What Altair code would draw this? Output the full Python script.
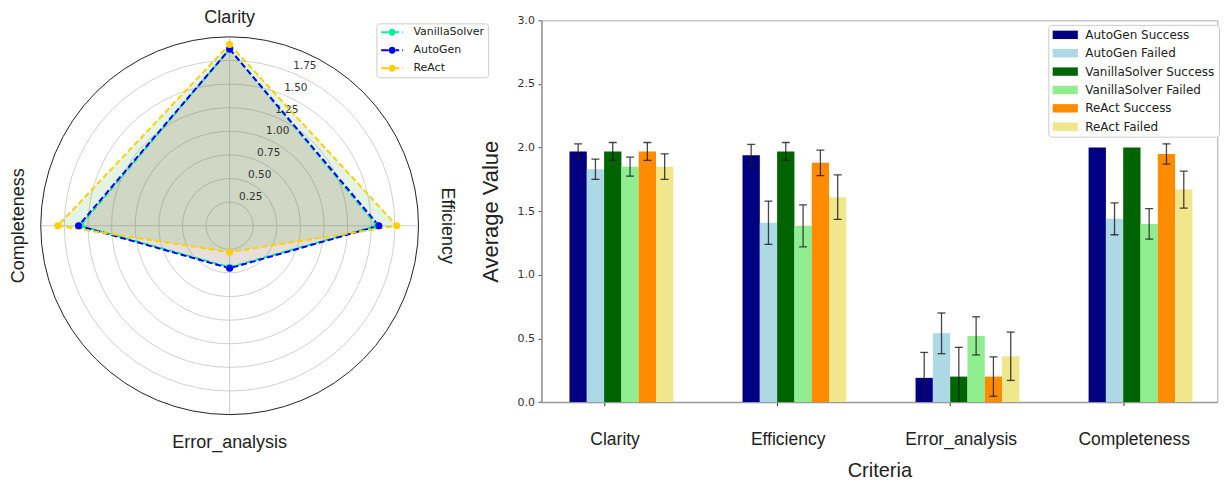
import math
import altair as alt
import pandas as pd

# ---------------- data ----------------
criteria = ["Clarity", "Efficiency", "Error_analysis", "Completeness"]

# radar chart (overall averages per model)
radar_models = ["VanillaSolver", "AutoGen", "ReAct"]
radar_vanilla = [1.87, 1.56, 0.44, 1.58]
radar_autogen = [1.87, 1.58, 0.45, 1.60]
radar_react = [1.92, 1.77, 0.28, 1.82]
radar_line_colors = ["#00ee99", "#0000ff", "#ffd000"]
radar_fill_colors = ["#1f77b4", "#ff7f0e", "#2ca02c"]
radial_ticks = [0.25, 0.5, 0.75, 1.0, 1.25, 1.5, 1.75]
radial_max = [2.0]

# grouped bar chart
series = ["AutoGen Success", "AutoGen Failed", "VanillaSolver Success",
          "VanillaSolver Failed", "ReAct Success", "ReAct Failed"]
series_colors = ["#000080", "#add8e6", "#006400", "#90ee90", "#ff8c00", "#f0e68c"]
autogen_success = [1.97, 1.94, 0.19, 2.00]
autogen_success_err = [0.06, 0.085, 0.20, 0.0]
autogen_failed = [1.83, 1.41, 0.54, 1.44]
autogen_failed_err = [0.08, 0.17, 0.16, 0.125]
vanilla_success = [1.97, 1.97, 0.20, 2.00]
vanilla_success_err = [0.07, 0.07, 0.23, 0.0]
vanilla_failed = [1.85, 1.385, 0.52, 1.40]
vanilla_failed_err = [0.075, 0.165, 0.15, 0.12]
react_success = [1.97, 1.88, 0.20, 1.95]
react_success_err = [0.07, 0.10, 0.155, 0.08]
react_failed = [1.85, 1.61, 0.36, 1.67]
react_failed_err = [0.10, 0.175, 0.19, 0.145]

# ---------------- tables ----------------
rows = []
for m, vals in zip(radar_models, [radar_vanilla, radar_autogen, radar_react]):
    closed_c = criteria + [criteria[0]]
    closed_v = vals + [vals[0]]
    for i, (c, v) in enumerate(zip(closed_c, closed_v)):
        rows.append({"model": m, "criterion": c, "idx": i, "value": v})
radar_df = pd.DataFrame(rows)
crit_df = pd.DataFrame({"criterion": criteria, "idx": list(range(len(criteria)))})
ticks_df = pd.DataFrame({"r": radial_ticks})
outer_df = pd.DataFrame({"r": radial_max})

bar_rows = []
all_vals = [autogen_success, autogen_failed, vanilla_success, vanilla_failed, react_success, react_failed]
all_errs = [autogen_success_err, autogen_failed_err, vanilla_success_err, vanilla_failed_err,
            react_success_err, react_failed_err]
for s, vals, errs in zip(series, all_vals, all_errs):
    for c, v, e in zip(criteria, vals, errs):
        bar_rows.append({"criterion": c, "series": s, "value": v, "err": e})
bars_df = pd.DataFrame(bar_rows)

# ---------------- radar panel ----------------
K = 94.6          # px per unit
RW, RH = 484, 459  # radar panel size
CX, CY = 221.0, 205.7
OUT = radial_max[0]
xs = alt.Scale(domain=[-CX / K, (RW - CX) / K], nice=False, zero=False)
ys = alt.Scale(domain=[-(RH - CY) / K, CY / K], nice=False, zero=False)
# circle symbol radius = sqrt(size)/2  ->  size = (2 * r * K)^2
ss = alt.Scale(type="pow", exponent=2, domain=[0, OUT], range=[0, (2 * OUT * K) ** 2], zero=True)

X0 = alt.X(datum=0, type="quantitative", scale=xs, axis=None)
Y0 = alt.Y(datum=0, type="quantitative", scale=ys, axis=None)

rings = alt.Chart(ticks_df).mark_point(shape="circle", filled=False, color="#c4c4c4",
                                       strokeWidth=0.8, opacity=1).encode(
    x=X0, y=Y0, size=alt.Size("r:Q", scale=ss, legend=None))
outer_ring = alt.Chart(outer_df).mark_point(shape="circle", filled=False, color="#222222",
                                            strokeWidth=1, opacity=1).encode(
    x=X0, y=Y0, size=alt.Size("r:Q", scale=ss, legend=None))

spokes = alt.Chart(crit_df).transform_calculate(
    ang="datum.idx * PI / 2", z="0",
).transform_calculate(
    sx=f"{OUT} * sin(datum.ang)", sy=f"{OUT} * cos(datum.ang)"
).mark_rule(color="#c4c4c4", strokeWidth=0.8).encode(
    x=alt.X("z:Q", scale=xs, axis=None), y=alt.Y("z:Q", scale=ys, axis=None),
    x2="sx:Q", y2="sy:Q")

rbase = alt.Chart(radar_df).transform_calculate(
    ang="datum.idx * PI / 2"
).transform_calculate(
    px="datum.value * sin(datum.ang)", py="datum.value * cos(datum.ang)"
)
PX = alt.X("px:Q", scale=xs, axis=None)
PY = alt.Y("py:Q", scale=ys, axis=None)

fill_layers = []
line_layers = []
for m, fc, lc in zip(radar_models, radar_fill_colors, radar_line_colors):
    sub = rbase.transform_filter(alt.datum.model == m)
    fill_layers.append(sub.mark_line(filled=True, color=fc, fillOpacity=0.12).encode(
        x=PX, y=PY, order=alt.Order("idx:Q")))
    line_layers.append(sub.mark_line(color=lc, strokeDash=[6, 3], strokeWidth=2).encode(
        x=PX, y=PY, order=alt.Order("idx:Q")))

tick_labels = alt.Chart(ticks_df).transform_calculate(
    tx="datum.r * sin(PI / 8)", ty="datum.r * cos(PI / 8)"
).mark_text(font="DejaVu Sans", fontSize=10.5, color="#333333", dx=12, dy=-7,
            align="center", baseline="middle").encode(
    x=alt.X("tx:Q", scale=xs, axis=None), y=alt.Y("ty:Q", scale=ys, axis=None),
    text=alt.Text("r:Q", format=".2f"))

RADAR_SYM = ("M1,0A1,1,0,1,1,-1,0A1,1,0,1,1,1,0Z"
             "M-3.14,-0.29H-1.03V0.29H-3.14Z"
             "M1,-0.29H2V0.29H1Z"
             "M2.91,-0.29H3.14V0.29H2.91Z")
points = rbase.transform_filter("datum.idx < 4").mark_point(filled=True, size=50, opacity=1).encode(
    x=PX, y=PY,
    color=alt.Color("model:N", scale=alt.Scale(domain=radar_models, range=radar_line_colors),
                    legend=alt.Legend(title=None, orient="none", legendX=368, legendY=3,
                                      symbolType=RADAR_SYM, symbolSize=49, symbolStrokeWidth=0,
                                      symbolOffset=6.8, labelOffset=15.8, labelFont="DejaVu Sans",
                                      labelFontSize=11, labelColor="#222222", rowPadding=6,
                                      padding=3.5, strokeColor="#cccccc", fillColor="white",
                                      cornerRadius=3)))

crit_labels = alt.Chart(crit_df).transform_calculate(
    ang="datum.idx * PI / 2",
    lr="datum.idx == 0 ? 2.196 : (datum.idx == 3 ? 2.23 : 2.30)",
    rot="datum.idx == 1 ? 90 : (datum.idx == 3 ? 270 : 0)",
).transform_calculate(
    lx="datum.lr * sin(datum.ang)", ly="datum.lr * cos(datum.ang)"
).mark_text(font="Liberation Sans", fontSize=18, color="#222222", align="center", baseline="middle").encode(
    x=alt.X("lx:Q", scale=xs, axis=None), y=alt.Y("ly:Q", scale=ys, axis=None),
    text="criterion:N", angle=alt.Angle("rot:Q", scale=None))

radar = alt.layer(rings, spokes, *fill_layers, tick_labels, outer_ring, *line_layers, points,
                  crit_labels).properties(
    width=RW, height=RH, view=alt.ViewBackground(stroke="transparent"))

# ---------------- bar panel ----------------
BW, BH = 677, 382.3

XB = alt.X("criterion:N", sort=criteria, title="Criteria",
           scale=alt.Scale(paddingInner=0.4, paddingOuter=0.153, align=0.53),
           axis=alt.Axis(labelAngle=0, labelFont="Liberation Sans", labelFontSize=17.5,
                         labelColor="#222222", labelPadding=25, tickSize=3.5, tickColor="#333333",
                         tickOffset=-17.3, labelOffset=10.5, domainColor="#999999", domainWidth=1.5,
                         titleFont="Liberation Sans", titleFontSize=20, titleFontWeight="normal",
                         titleColor="#222222", titlePadding=13))
XO = alt.XOffset("series:N", sort=series, scale=alt.Scale(paddingInner=0, paddingOuter=0))
yaxis = alt.Axis(values=[0, 0.5, 1.0, 1.5, 2.0, 2.5, 3.0], format=".1f", labelFont="DejaVu Sans",
                 labelFontSize=11, labelColor="#333333", tickSize=3.5, tickColor="#555555",
                 labelPadding=3.5, domainColor="#999999", domainWidth=1.5, grid=False,
                 titleFont="Liberation Sans", titleFontSize=22, titleFontWeight="normal",
                 titleColor="#222222", titlePadding=14)
yscale = alt.Scale(domain=[0, 3], nice=False, zero=True)

BAR_SYM = "M-3,-1H3V1H-3Z"
bars = alt.Chart(bars_df).mark_bar().encode(
    x=XB, xOffset=XO,
    y=alt.Y("value:Q", scale=yscale, axis=yaxis, title="Average Value"),
    color=alt.Color("series:N", sort=series, scale=alt.Scale(domain=series, range=series_colors),
                    legend=alt.Legend(title=None, orient="none", legendX=507.7, legendY=4.5,
                                      symbolType=BAR_SYM, symbolSize=70.56, symbolStrokeWidth=0,
                                      symbolOffset=7.0, labelOffset=14.0, labelFont="DejaVu Sans",
                                      labelFontSize=12, labelColor="#222222", rowPadding=6.4,
                                      padding=4, strokeColor="#cccccc", fillColor="white",
                                      cornerRadius=3)))

ebase = alt.Chart(bars_df).transform_filter("datum.err > 0").transform_calculate(
    lo="datum.value - datum.err", hi="datum.value + datum.err")
err_rule = ebase.mark_rule(color="#1a1a1a", strokeWidth=1.3, opacity=0.8, clip=True).encode(
    x=XB, xOffset=XO,
    y=alt.Y("lo:Q", scale=yscale, axis=yaxis, title="Average Value"), y2="hi:Q")
cap_lo = ebase.mark_tick(color="#1a1a1a", thickness=1.3, size=8, opacity=0.8, clip=True).encode(
    x=XB, xOffset=XO, y=alt.Y("lo:Q", scale=yscale, axis=yaxis, title="Average Value"))
cap_hi = ebase.mark_tick(color="#1a1a1a", thickness=1.3, size=8, opacity=0.8, clip=True).encode(
    x=XB, xOffset=XO, y=alt.Y("hi:Q", scale=yscale, axis=yaxis, title="Average Value"))

barchart = alt.layer(bars, err_rule, cap_lo, cap_hi).properties(
    width=BW, height=BH, view=alt.ViewBackground(stroke="#aaaaaa", strokeWidth=1))

chart = alt.hconcat(radar, barchart, spacing=49.3, bounds="flush", padding=0).resolve_scale(
    color="independent", fill="independent", stroke="independent", size="independent",
    x="independent", y="independent"
).resolve_legend(color="independent").configure(background="white")

chart.save("out.html", embed_options={"renderer": "svg", "actions": False})
